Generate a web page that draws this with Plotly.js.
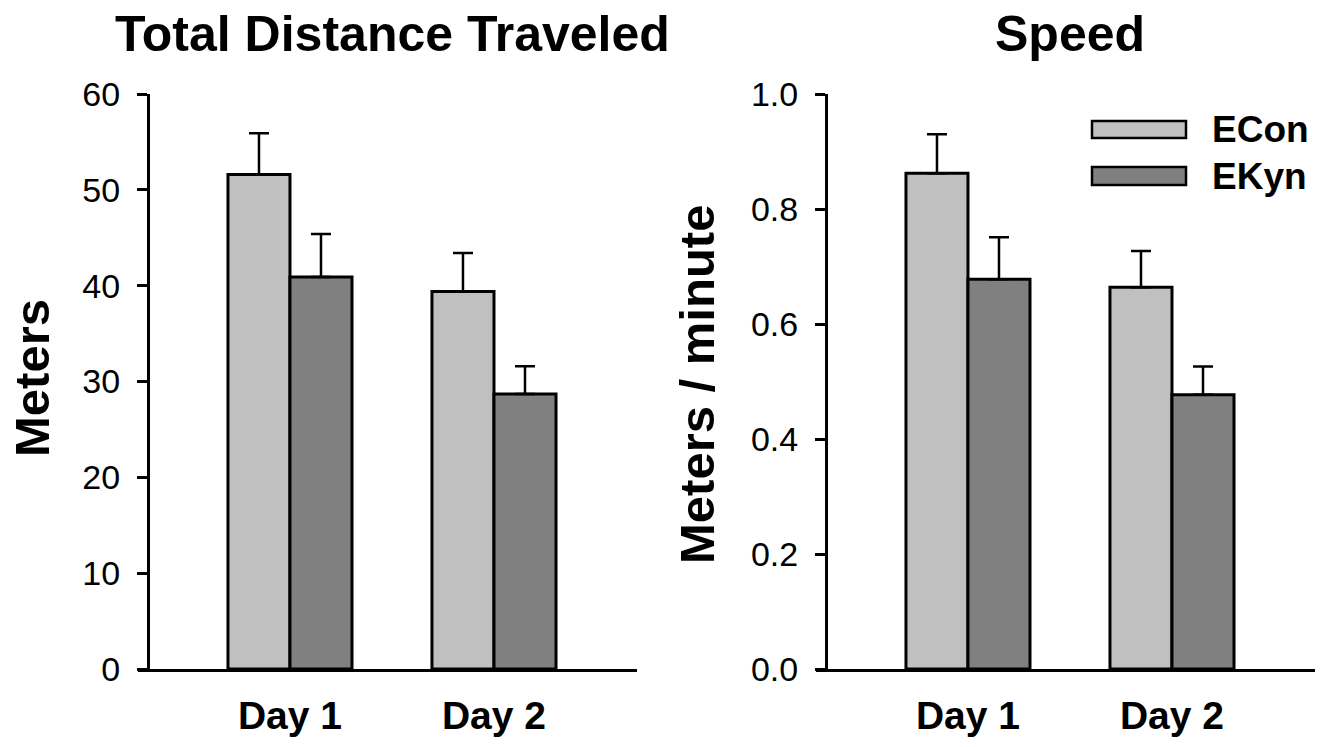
<!DOCTYPE html>
<html>
<head>
<meta charset="utf-8">
<script src="https://cdn.plot.ly/plotly-3.0.1.min.js"></script>
<style>
  html, body { margin: 0; padding: 0; background: #ffffff; }
  #chart { width: 1334px; height: 747px; }
</style>
</head>
<body>
<div id="chart"></div>
<script>
// ---- Data ----
const categories = [0, 1];
const categoryLabels = ["Day 1", "Day 2"];
const seriesNames = ["ECon", "EKyn"];

const distanceECon = [51.6, 39.4];
const distanceEConErr = [4.3, 4.0];
const distanceEKyn = [40.9, 28.7];
const distanceEKynErr = [4.5, 2.9];

const speedECon = [0.862, 0.664];
const speedEConErr = [0.068, 0.063];
const speedEKyn = [0.678, 0.477];
const speedEKynErr = [0.073, 0.049];

const distanceTicks = [0, 10, 20, 30, 40, 50, 60];
const distanceTickText = ["0", "10", "20", "30", "40", "50", "60"];
const speedTicks = [0, 0.2, 0.4, 0.6, 0.8, 1.0];
const speedTickText = ["0.0", "0.2", "0.4", "0.6", "0.8", "1.0"];

// ---- Styling ----
const W = 1334, H = 747;
const px = v => v / W;
const py = v => 1 - v / H;
const colors = ["#c0c0c0", "#808080"];
const FONT = "Liberation Sans, Arial, Helvetica, sans-serif";

function barTrace(y, err, idx, xa, ya) {
  return {
    type: "bar",
    x: categories,
    y: y,
    name: seriesNames[idx],
    xaxis: xa,
    yaxis: ya,
    showlegend: false,
    marker: { color: colors[idx], line: { color: "#000000", width: 3 } },
    error_y: {
      type: "data",
      symmetric: false,
      array: err,
      arrayminus: err.map(() => 0),
      color: "#000000",
      thickness: 2.5,
      width: 10
    },
    hoverinfo: "skip"
  };
}

const data = [
  barTrace(distanceECon, distanceEConErr, 0, "x", "y"),
  barTrace(distanceEKyn, distanceEKynErr, 1, "x", "y"),
  barTrace(speedECon, speedEConErr, 0, "x2", "y2"),
  barTrace(speedEKyn, speedEKynErr, 1, "x2", "y2")
];

const yDomain = [py(669), py(94)];
const xRange = [-0.745, 1.701];

const xAxisCommon = {
  range: xRange,
  showline: true,
  linecolor: "#000000",
  linewidth: 3,
  showgrid: false,
  zeroline: false,
  ticks: "",
  ticklabelstandoff: 10,
  tickmode: "array",
  tickvals: categories,
  ticktext: categoryLabels,
  tickfont: { family: FONT, size: 39, color: "#000000", weight: 700 },
  fixedrange: true
};

const yAxisCommon = {
  domain: yDomain,
  anchor: "free",
  showline: true,
  linecolor: "#000000",
  linewidth: 3,
  showgrid: false,
  zeroline: false,
  ticks: "outside",
  ticklen: 10,
  tickwidth: 3,
  tickcolor: "#000000",
  ticklabelstandoff: 10,
  tickmode: "array",
  tickfont: { family: FONT, size: 34, color: "#000000" },
  fixedrange: true
};

const layout = {
  width: W,
  height: H,
  margin: { l: 0, r: 0, t: 0, b: 0 },
  paper_bgcolor: "#ffffff",
  plot_bgcolor: "rgba(0,0,0,0)",
  barmode: "group",
  bargap: 0.392,
  bargroupgap: 0,
  showlegend: false,
  font: { family: FONT, color: "#000000" },
  xaxis: Object.assign({}, xAxisCommon, { domain: [px(138), px(637)], anchor: "y" }),
  yaxis: Object.assign({}, yAxisCommon, {
    position: px(148), range: [0, 60],
    tickvals: distanceTicks, ticktext: distanceTickText
  }),
  xaxis2: Object.assign({}, xAxisCommon, { domain: [px(816), px(1315)], anchor: "y2" }),
  yaxis2: Object.assign({}, yAxisCommon, {
    position: px(826), range: [0, 1.0],
    tickvals: speedTicks, ticktext: speedTickText
  }),
  shapes: [
    { type: "rect", xref: "paper", yref: "paper",
      x0: px(1092), x1: px(1186), y0: py(138), y1: py(121),
      fillcolor: colors[0], line: { color: "#000000", width: 2.5 } },
    { type: "rect", xref: "paper", yref: "paper",
      x0: px(1092), x1: px(1186), y0: py(185), y1: py(167),
      fillcolor: colors[1], line: { color: "#000000", width: 2.5 } }
  ],
  annotations: [
    { text: "Total Distance Traveled", xref: "paper", yref: "paper",
      x: px(392), y: py(34), xanchor: "center", yanchor: "middle", showarrow: false,
      font: { family: FONT, size: 50, color: "#000000", weight: 700 } },
    { text: "Speed", xref: "paper", yref: "paper",
      x: px(1070), y: py(34), xanchor: "center", yanchor: "middle", showarrow: false,
      font: { family: FONT, size: 50, color: "#000000", weight: 700 } },
    { text: "Meters", xref: "paper", yref: "paper", textangle: -90,
      x: px(32), y: py(378), xanchor: "center", yanchor: "middle", showarrow: false,
      font: { family: FONT, size: 49, color: "#000000", weight: 700 } },
    { text: "Meters / minute", xref: "paper", yref: "paper", textangle: -90,
      x: px(697), y: py(385), xanchor: "center", yanchor: "middle", showarrow: false,
      font: { family: FONT, size: 49, color: "#000000", weight: 700 } },
    { text: seriesNames[0], xref: "paper", yref: "paper",
      x: px(1210), y: py(130), xanchor: "left", yanchor: "middle", showarrow: false,
      font: { family: FONT, size: 37, color: "#000000", weight: 700 } },
    { text: seriesNames[1], xref: "paper", yref: "paper",
      x: px(1210), y: py(176), xanchor: "left", yanchor: "middle", showarrow: false,
      font: { family: FONT, size: 37, color: "#000000", weight: 700 } }
  ]
};

Plotly.newPlot("chart", data, layout, { staticPlot: true, displayModeBar: false });
</script>
</body>
</html>
